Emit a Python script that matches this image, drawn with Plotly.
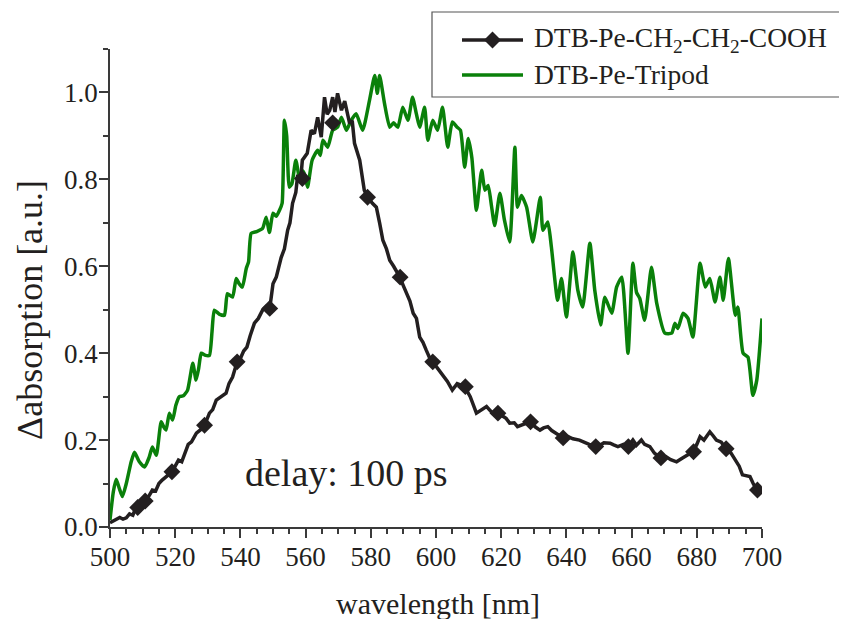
import plotly.graph_objects as go

# ---- data ----
wl_cooh = [500.0, 501.5, 503.0, 504.0, 505.0, 506.0, 507.0, 508.0, 509.0, 510.0, 511.0, 512.0, 513.0, 514.0,
           515.0, 516.0, 517.0, 518.0, 519.0, 520.0, 521.0, 522.0, 523.0, 524.0, 525.0, 526.5, 528.0, 529.0,
           530.5, 531.5, 532.6, 534.0, 535.6, 536.5, 537.6, 539.0, 540.0, 541.0, 542.0, 543.0, 544.3, 545.5,
           546.8, 548.0, 549.0, 550.0, 551.0, 552.5, 553.5, 554.5, 555.2, 556.0, 557.0, 557.5, 558.5, 559.0,
           560.5, 561.7, 562.7, 563.7, 564.8, 565.8, 566.6, 567.4, 568.3, 569.0, 569.8, 571.0, 572.0, 573.5,
           574.3, 575.0, 576.6, 578.0, 579.0, 580.5, 581.7, 582.7, 583.7, 584.8, 585.8, 587.0, 588.9, 590.0,
           591.0, 592.0, 593.0, 594.0, 595.0, 596.0, 597.0, 598.6, 600.0, 601.0, 602.0, 603.5, 605.0, 606.5,
           608.8, 610.5, 612.4, 614.0, 615.5, 617.0, 619.0, 620.5, 621.5, 622.6, 624.0, 625.0, 626.5, 628.8,
           630.5, 631.9, 633.0, 634.3, 635.5, 637.0, 639.0, 640.5, 642.0, 644.0, 645.5, 647.0, 648.7, 650.3,
           651.5, 653.4, 654.5, 655.8, 657.5, 658.9, 660.4, 661.5, 663.0, 664.0, 665.6, 667.0, 668.7, 670.5,
           672.0, 673.8, 675.5, 677.0, 678.8, 680.0, 681.0, 682.2, 683.2, 684.0, 685.0, 686.0, 687.5, 689.0,
           690.5, 692.0, 693.0, 694.0, 695.0, 696.3, 697.3, 698.4, 700.0]
abs_cooh = [0.010, 0.015, 0.022, 0.018, 0.021, 0.030, 0.027, 0.045, 0.055, 0.050, 0.065, 0.072, 0.085, 0.083,
            0.100, 0.108, 0.115, 0.122, 0.127, 0.140, 0.154, 0.150, 0.172, 0.190, 0.196, 0.216, 0.225, 0.234,
            0.262, 0.270, 0.292, 0.300, 0.308, 0.330, 0.345, 0.380, 0.388, 0.405, 0.414, 0.440, 0.469, 0.480,
            0.499, 0.508, 0.503, 0.560, 0.575, 0.620, 0.640, 0.683, 0.700, 0.745, 0.770, 0.805, 0.800, 0.844,
            0.860, 0.913, 0.905, 0.943, 0.897, 0.989, 0.950, 0.959, 0.989, 0.955, 0.998, 0.959, 0.980, 0.929,
            0.935, 0.883, 0.844, 0.775, 0.759, 0.745, 0.736, 0.700, 0.660, 0.640, 0.614, 0.600, 0.575, 0.555,
            0.537, 0.520, 0.492, 0.480, 0.437, 0.425, 0.407, 0.380, 0.370, 0.360, 0.349, 0.335, 0.315, 0.330,
            0.323, 0.300, 0.262, 0.270, 0.277, 0.265, 0.262, 0.255, 0.250, 0.239, 0.240, 0.231, 0.235, 0.242,
            0.230, 0.223, 0.228, 0.231, 0.222, 0.215, 0.205, 0.208, 0.203, 0.200, 0.196, 0.190, 0.185, 0.188,
            0.194, 0.193, 0.189, 0.185, 0.190, 0.185, 0.200, 0.188, 0.200, 0.190, 0.185, 0.170, 0.159, 0.162,
            0.155, 0.150, 0.158, 0.165, 0.173, 0.190, 0.208, 0.200, 0.212, 0.219, 0.210, 0.200, 0.195, 0.180,
            0.170, 0.154, 0.140, 0.120, 0.118, 0.116, 0.100, 0.085, 0.080]

marker_wl = [508.5, 510.8, 519.0, 529.0, 539.0, 549.0, 559.0, 568.3, 579.0, 589.0, 599.0, 609.0, 619.0,
             629.0, 639.0, 649.0, 659.0, 669.0, 679.0, 689.0, 698.6]
marker_abs = [0.045, 0.060, 0.127, 0.234, 0.380, 0.503, 0.802, 0.930, 0.759, 0.575, 0.380, 0.323, 0.262,
              0.242, 0.205, 0.185, 0.185, 0.159, 0.173, 0.180, 0.085]

wl_tripod = [500.0, 501.0, 501.9, 502.8, 503.8, 505.0, 506.5, 507.5, 509.0, 510.6, 512.0, 513.0, 514.2, 515.7,
             516.5, 517.2, 518.2, 519.2, 520.2, 521.3, 522.5, 523.8, 525.4, 526.4, 527.2, 528.0, 529.3, 530.5,
             531.3, 532.0, 533.5, 535.1, 536.0, 537.6, 538.7, 539.6, 540.6, 541.8, 542.5, 543.3, 545.0, 546.8,
             547.9, 548.9, 550.0, 551.0, 552.0, 552.8, 553.5, 554.2, 555.0, 555.8, 557.0, 558.2, 559.0, 559.8,
             560.6, 562.0, 563.7, 564.5, 565.3, 566.8, 568.3, 569.8, 571.0, 572.5, 574.0, 575.5, 577.5, 579.6,
             581.2, 582.0, 582.7, 584.2, 585.8, 587.0, 588.3, 589.8, 591.4, 592.8, 594.0, 595.0, 596.5, 597.5,
             599.0, 600.5, 602.0, 603.6, 605.0, 606.5, 607.5, 608.8, 609.9, 611.0, 612.4, 614.0, 615.0, 616.0,
             617.0, 618.0, 619.6, 621.0, 622.6, 624.2, 625.0, 626.2, 627.8, 629.7, 632.0, 632.8, 634.3, 635.4,
             637.3, 638.5, 640.0, 642.0, 643.5, 645.0, 647.2, 648.7, 650.5, 651.8, 653.9, 655.4, 657.0, 658.9,
             660.4, 661.5, 662.5, 664.0, 666.1, 667.7, 670.2, 672.3, 673.3, 674.2, 675.8, 677.3, 678.8, 681.0,
             682.6, 684.0, 685.6, 687.1, 688.1, 689.7, 691.8, 692.6, 694.2, 695.7, 697.2, 698.4, 700.0]
abs_tripod = [0.016, 0.080, 0.110, 0.090, 0.070, 0.100, 0.150, 0.172, 0.150, 0.138, 0.160, 0.184, 0.165, 0.242,
              0.230, 0.223, 0.262, 0.246, 0.280, 0.300, 0.302, 0.315, 0.377, 0.338, 0.365, 0.400, 0.395, 0.395,
              0.450, 0.499, 0.490, 0.487, 0.537, 0.529, 0.572, 0.560, 0.552, 0.595, 0.610, 0.676, 0.680, 0.687,
              0.713, 0.678, 0.722, 0.715, 0.729, 0.745, 0.936, 0.900, 0.782, 0.790, 0.844, 0.800, 0.820, 0.810,
              0.782, 0.844, 0.867, 0.855, 0.890, 0.874, 0.913, 0.920, 0.943, 0.913, 0.936, 0.951, 0.913, 0.982,
              1.039, 0.998, 1.039, 0.975, 0.920, 0.930, 0.920, 0.966, 0.936, 0.989, 0.950, 0.920, 0.966, 0.890,
              0.936, 0.913, 0.966, 0.874, 0.932, 0.920, 0.913, 0.828, 0.894, 0.850, 0.729, 0.821, 0.775, 0.786,
              0.740, 0.694, 0.768, 0.706, 0.656, 0.874, 0.736, 0.763, 0.736, 0.656, 0.759, 0.683, 0.702, 0.644,
              0.522, 0.572, 0.483, 0.633, 0.545, 0.506, 0.653, 0.545, 0.465, 0.529, 0.492, 0.552, 0.575, 0.400,
              0.607, 0.540, 0.526, 0.476, 0.598, 0.515, 0.446, 0.446, 0.469, 0.457, 0.492, 0.480, 0.437, 0.607,
              0.552, 0.572, 0.518, 0.575, 0.522, 0.618, 0.487, 0.506, 0.400, 0.391, 0.303, 0.338, 0.480]

x_ticks = [500, 520, 540, 560, 580, 600, 620, 640, 660, 680, 700]
y_ticks = [0.0, 0.2, 0.4, 0.6, 0.8, 1.0]

name_cooh = "DTB-Pe-CH<sub>2</sub>-CH<sub>2</sub>-COOH"
name_tripod = "DTB-Pe-Tripod"
x_title = "wavelength [nm]"
y_title = "\u0394absorption [a.u.]"
delay_text = "delay: 100 ps"

BLACK = "#231f20"
GREEN = "#0a800a"
AXC = "#3a3a3a"
TXT = "#231f20"
FONT = "Liberation Serif"

# page offset of the plot div (default body margin)
OFF = 8
W, H = 847, 619
ML, MR, MT, MB = 102, 93, 41, 100
PW, PH = W - ML - MR, H - MT - MB


def px(xp):
    """page x pixel -> paper x"""
    return (xp - OFF - ML) / PW


def py(yp):
    """page y pixel -> paper y"""
    return (H - MB - (yp - OFF)) / PH


fig = go.Figure()
fig.add_trace(go.Scatter(x=wl_tripod, y=abs_tripod, mode="lines", showlegend=False, hoverinfo="skip",
                         line=dict(color=GREEN, width=3.5, shape="spline", smoothing=0.5)))
fig.add_trace(go.Scatter(x=wl_cooh, y=abs_cooh, mode="lines", showlegend=False, hoverinfo="skip",
                         line=dict(color=BLACK, width=3.5)))
fig.add_trace(go.Scatter(x=marker_wl, y=marker_abs, mode="markers", showlegend=False, hoverinfo="skip",
                         marker=dict(symbol="diamond", size=13, color=BLACK)))

axis_common = dict(showgrid=False, zeroline=False, showline=True, linecolor=AXC, linewidth=1.8,
                   tickcolor=AXC, tickwidth=1.5)

# manual legend (box, samples, labels)
shapes = [
    dict(type="rect", xref="paper", yref="paper", x0=px(432), x1=px(860), y0=py(97), y1=py(12),
         line=dict(color="#555555", width=1.2), fillcolor="white", layer="above"),
    dict(type="line", xref="paper", yref="paper", x0=px(462), x1=px(523), y0=py(40), y1=py(40),
         line=dict(color=BLACK, width=3.5), layer="above"),
    dict(type="path", xref="paper", yref="paper", layer="above", fillcolor=BLACK, line=dict(width=0),
         path="M {a},{m} L {c},{t} L {b},{m} L {c},{bt} Z".format(
             a=px(484), b=px(501), c=px(492.5), m=py(40), t=py(31.5), bt=py(48.5))),
    dict(type="line", xref="paper", yref="paper", x0=px(462), x1=px(523), y0=py(75), y1=py(75),
         line=dict(color=GREEN, width=3.5), layer="above"),
]
annotations = [
    dict(text=name_cooh, x=px(532), y=py(40), xref="paper", yref="paper", xanchor="left",
         yanchor="middle", showarrow=False, font=dict(size=27.5, family=FONT, color=TXT)),
    dict(text=name_tripod, x=px(532), y=py(75), xref="paper", yref="paper", xanchor="left",
         yanchor="middle", showarrow=False, font=dict(size=27.5, family=FONT, color=TXT)),
    dict(text=delay_text, x=px(346.5), y=py(473), xref="paper", yref="paper",
         xanchor="center", yanchor="middle",
         showarrow=False, font=dict(size=38, family=FONT, color=TXT)),
    dict(text=x_title, x=px(437.5), y=py(603), xref="paper", yref="paper",
         xanchor="center", yanchor="middle",
         showarrow=False, font=dict(size=30, family=FONT, color=TXT)),
    dict(text=y_title, x=px(30), y=py(310), xref="paper", yref="paper", textangle=-90,
         xanchor="center", yanchor="middle",
         showarrow=False, font=dict(size=36, family=FONT, color=TXT)),
]

fig.update_layout(
    width=W, height=H,
    margin=dict(l=ML, r=MR, t=MT, b=MB, autoexpand=False),
    paper_bgcolor="white", plot_bgcolor="white",
    showlegend=False,
    font=dict(family=FONT, size=27, color=TXT),
    xaxis=dict(range=[500, 700], tickvals=x_ticks, ticktext=[str(v) for v in x_ticks],
               ticks="outside", ticklen=9, ticklabelstandoff=-4,
               minor=dict(dtick=5, ticks="outside", ticklen=5, tickcolor=AXC, tickwidth=1.5),
               tickfont=dict(size=27, family=FONT, color=TXT), **axis_common),
    yaxis=dict(range=[0, 1.1], tickvals=y_ticks, ticktext=["%.1f" % v for v in y_ticks],
               ticks="outside", ticklen=9, ticklabelstandoff=-4,
               minor=dict(dtick=0.1, ticks="outside", ticklen=5, tickcolor=AXC, tickwidth=1.5),
               tickfont=dict(size=27, family=FONT, color=TXT), **axis_common),
    xaxis2=dict(range=[500, 700], overlaying="x", side="top", anchor="y", tickvals=x_ticks,
                showticklabels=False, ticks="inside", ticklen=9,
                minor=dict(dtick=5, ticks="inside", ticklen=5, tickcolor=AXC, tickwidth=1.5),
                **axis_common),
    yaxis2=dict(range=[0, 1.1], overlaying="y", side="right", anchor="x", tickvals=y_ticks,
                showticklabels=False, ticks="inside", ticklen=9,
                minor=dict(dtick=0.1, ticks="inside", ticklen=5, tickcolor=AXC, tickwidth=1.5),
                **axis_common),
    shapes=shapes,
    annotations=annotations,
)

fig.write_html("out.html")
